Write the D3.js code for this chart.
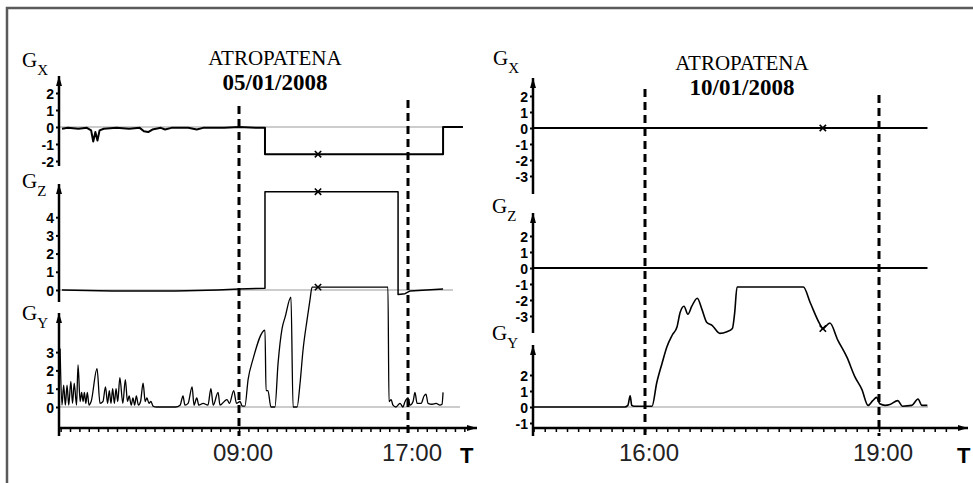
<!DOCTYPE html>
<html>
<head>
<meta charset="utf-8">
<script src="https://cdn.jsdelivr.net/npm/d3@7"></script>
<style>
  body { margin: 0; background: #fff; }
  svg { display: block; }
</style>
</head>
<body>
<svg id="chart" width="973" height="483"></svg>
<script>
// ---- data: [hour, value] ----
const leftGx = [[0.62,-0.1],[0.9,-0.05],[1.4,-0.1],[1.8,-0.05],[2.0,-0.2],[2.1,-0.85],[2.2,-0.3],[2.3,-0.8],[2.4,-0.2],[2.6,-0.1],
  [3.2,-0.05],[3.8,-0.1],[4.3,-0.05],[4.5,-0.25],[4.7,-0.3],[4.9,-0.15],[5.3,-0.05],[5.5,-0.15],[5.8,-0.05],[6.6,-0.05],
  [7.0,-0.15],[7.3,-0.05],[8.3,-0.05],[9.0,0],[9.8,-0.05],[10.23,-0.05],[10.23,-1.6],[18.66,-1.6],[18.66,0],[19.6,0]];
const leftGz = [[0.62,0],[3,-0.05],[6,-0.05],[8,0],[9,0.05],[10.23,0.1],[10.23,5.4],[16.53,5.4],[16.53,-0.25],[16.86,-0.2],
  [17.1,-0.05],[18.66,0.05]];
const leftGy = [[0.53,3.2],[0.62,0.1],[0.70,1.2],[0.78,0.1],[0.86,1.2],[0.94,0.1],[1.04,1.4],[1.12,0.2],[1.2,1.3],[1.31,0.1],
  [1.38,2.3],[1.48,0.3],[1.55,0.8],[1.62,0.3],[1.68,0.8],[1.75,0.2],[1.82,0.8],[1.9,0.1],[2.0,0.3],[2.28,2.1],[2.42,0.2],
  [2.56,0.3],[2.68,1.1],[2.78,0.2],[2.86,0.9],[2.94,0.2],[3.02,1.0],[3.1,0.2],[3.18,1.0],[3.26,0.3],[3.36,1.6],[3.5,0.2],
  [3.62,1.5],[3.72,0.3],[3.8,0.6],[3.9,0.1],[3.98,0.5],[4.06,0.1],[4.14,0.6],[4.24,0.1],[4.34,0.3],[4.46,1.3],[4.56,0.3],
  [4.64,0.5],[4.74,0.2],[4.83,0.3],[4.93,0.05],[5.1,0],[6.0,0],[6.21,0.1],[6.35,0.6],[6.44,0.1],[6.59,0.2],[6.78,1.1],
  [6.87,0.1],[7.0,0.5],[7.1,0.1],[7.3,0.2],[7.53,0.1],[7.67,1.0],[7.78,0.1],[8.01,0.8],[8.1,0.1],[8.3,0.3],[8.43,0.4],
  [8.55,0.2],[8.75,0.9],[8.88,0.2],[9.05,0.3],[9.15,0.05],[9.28,0.05],[9.43,1.5],[9.66,2.6],[10.23,4.2],[10.28,0.9],
  [10.37,0.9],[10.51,0],[10.70,0],[10.85,2.4],[11.04,4.3],[11.18,4.9],[11.46,6.0],[11.56,0],[11.75,0],[11.89,1.3],
  [12.03,3.1],[12.22,4.75],[12.36,5.85],[12.46,6.55],[16.05,6.55],[16.10,0.3],[16.2,0.4],[16.29,0.1],[16.43,0],[16.62,0.2],
  [16.76,0],[16.86,0.3],[17.0,0.5],[17.1,0.1],[17.24,0.3],[17.33,0.8],[17.43,0.2],[17.62,0.2],[17.76,0.6],[17.85,0.7],
  [17.95,0.2],[18.14,0.15],[18.33,0.2],[18.51,0.1],[18.61,0.15],[18.66,0.8]];

const rightGx = [[14.56,0],[19.62,0]];
const rightGz = [[14.56,0],[19.62,0]];
const rightGy = [[14.56,0],[15.74,0],[15.78,0.1],[15.81,0.7],[15.83,0.1],[15.86,0.05],[16.09,0.05],[16.15,1.5],[16.22,2.75],
  [16.28,3.75],[16.35,4.5],[16.41,5.0],[16.45,5.9],[16.50,6.3],[16.55,5.8],[16.60,6.3],[16.67,6.8],[16.73,6.1],[16.79,5.3],
  [16.86,5.1],[16.96,4.6],[17.05,4.7],[17.12,4.9],[17.15,5.9],[17.18,7.5],[18.03,7.5],[18.12,6.5],[18.24,5.2],[18.28,4.9],
  [18.37,5.25],[18.47,4.2],[18.59,3.1],[18.69,1.9],[18.78,1.1],[18.86,0.1],[18.92,0.4],[18.97,0.6],[19.01,0.2],[19.08,0.1],
  [19.14,0.15],[19.24,0.4],[19.3,0.05],[19.42,0.1],[19.50,0.5],[19.55,0.1],[19.62,0.1]];

// marker positions (hour, value)
const leftMarks = { gx: [12.74,-1.6], gz: [12.74,5.4], gy: [12.74,6.55] };
const rightMarks = { gx: [18.28,0], gy: [18.28,4.9] };

// tick labels
const leftGxTicks = [2,1,0,-1,-2];
const leftGzTicks = [4,3,2,1,0];
const leftGyTicks = [3,2,1,0];
const rightGxTicks = [2,1,0,-1,-2,-3];
const rightGzTicks = [2,1,0,-1,-2,-3];
const rightGyTicks = [2,1,0,-1];

const leftTimes = [9, 17];
const rightTimes = [16, 19];
const timeLabel = h => d3.format("02")(h) + ":00";

const titles = [
  { name: "ATROPATENA", date: "05/01/2008" },
  { name: "ATROPATENA", date: "10/01/2008" }
];

// ---- drawing ----
const svg = d3.select("#chart");

svg.append("defs").append("marker")
  .attr("id", "arrow")
  .attr("viewBox", "0 0 10 6")
  .attr("refX", 10).attr("refY", 3)
  .attr("markerWidth", 10).attr("markerHeight", 6)
  .attr("markerUnits", "userSpaceOnUse")
  .attr("orient", "auto")
  .append("path").attr("d", "M0,0L10,3L0,6Z").attr("fill", "#000");

// frame (cropped on right and bottom)
svg.append("rect")
  .attr("x", 7).attr("y", 8).attr("width", 1200).attr("height", 700)
  .attr("fill", "none").attr("stroke", "#5a5a5a").attr("stroke-width", 2.5);

const panels = [
  {
    x: d3.scaleLinear().domain([9, 17]).range([239, 408]),
    axisX: 59, arrowEnd: 477, tickStep: 8 / 18, tickEndPx: 466,
    times: leftTimes, dashTop: [106, 100], tY: 463, tX: 460,
    title: titles[0], titleX: 275, titleY: 65,
    strips: [
      { name: "X", data: leftGx, ticks: leftGxTicks, zero: 127, unit: 17, top: 76, bottom: 166, grayEnd: 463, lx: 22, ly: 67, w: 2, mark: leftMarks.gx, curve: d3.curveLinear },
      { name: "Z", data: leftGz, ticks: leftGzTicks, zero: 290, unit: 18.2, top: 184, bottom: 302, grayEnd: 453, lx: 22, ly: 188, w: 1.5, mark: leftMarks.gz, curve: d3.curveLinear },
      { name: "Y", data: leftGy, ticks: leftGyTicks, zero: 407, unit: 18.3, top: 313, bottom: 436, grayEnd: 460, lx: 22, ly: 320, w: 1.3, mark: leftMarks.gy, curve: d3.curveMonotoneX }
    ]
  },
  {
    x: d3.scaleLinear().domain([16, 19]).range([645, 879]),
    axisX: 533, arrowEnd: 968, tickStep: 1 / 7, tickEndPx: 955,
    times: rightTimes, dashTop: [89, 95], tY: 463, tX: 957,
    title: titles[1], titleX: 742, titleY: 70,
    strips: [
      { name: "X", data: rightGx, ticks: rightGxTicks, zero: 128, unit: 16, top: 78, bottom: 194, grayEnd: 928, lx: 493, ly: 65, w: 2.2, mark: rightMarks.gx, curve: d3.curveLinear },
      { name: "Z", data: rightGz, ticks: rightGzTicks, zero: 268, unit: 16, top: 213, bottom: 333, grayEnd: 928, lx: 492, ly: 213, w: 2.2, mark: null, curve: d3.curveLinear },
      { name: "Y", data: rightGy, ticks: rightGyTicks, zero: 407, unit: 16, top: 345, bottom: 436, grayEnd: 928, lx: 492, ly: 340, w: 1.6, mark: rightMarks.gy, curve: d3.curveMonotoneX }
    ]
  }
];

const xAxisY = 428;
const serif = "'Liberation Serif', 'Times New Roman', serif";
const sans = "'Liberation Sans', Arial, sans-serif";

panels.forEach(p => {
  const g = svg.append("g");
  const x = p.x;

  // title
  g.append("text").attr("x", p.titleX).attr("y", p.titleY)
    .attr("text-anchor", "middle")
    .style("font-family", serif)
    .style("font-size", "21px")
    .text(p.title.name);
  g.append("text").attr("x", p.titleX).attr("y", p.titleY + 25)
    .attr("text-anchor", "middle")
    .style("font-family", serif)
    .style("font-size", "23px").style("font-weight", "bold")
    .text(p.title.date);

  p.strips.forEach(s => {
    const y = d3.scaleLinear().domain([0, 1]).range([s.zero, s.zero - s.unit]);

    // gray zero line
    g.append("line")
      .attr("x1", p.axisX).attr("x2", s.grayEnd)
      .attr("y1", y(0)).attr("y2", y(0))
      .attr("stroke", "#999").attr("stroke-width", 1);

    // vertical axis with arrow
    g.append("line")
      .attr("x1", p.axisX).attr("x2", p.axisX)
      .attr("y1", s.bottom).attr("y2", s.top)
      .attr("stroke", "#000").attr("stroke-width", 2.5)
      .attr("marker-end", "url(#arrow)");

    const ax = g.append("g")
      .attr("transform", `translate(${p.axisX},0)`)
      .call(d3.axisLeft(y).tickValues(s.ticks).tickSize(3).tickPadding(2)
        .tickFormat(d => String(d)));
    ax.select(".domain").remove();
    ax.selectAll("line").attr("stroke-width", 2);
    ax.selectAll("text")
      .style("font-family", sans)
      .style("font-size", "14px").style("font-weight", "bold")
      .attr("dy", "0.36em");

    // G label with subscript
    const lab = g.append("text").attr("x", s.lx).attr("y", s.ly)
      .style("font-family", serif)
      .style("font-size", "21px");
    lab.append("tspan").text("G");
    lab.append("tspan").attr("dx", 0).attr("dy", 8).style("font-size", "15px").text(s.name);

    // data line
    const line = d3.line().x(d => x(d[0])).y(d => y(d[1])).curve(s.curve);
    g.append("path").datum(s.data)
      .attr("d", line)
      .attr("fill", "none").attr("stroke", "#000")
      .attr("stroke-width", s.w).attr("stroke-linejoin", "round");

    if (s.mark) {
      g.append("path")
        .attr("d", d3.symbol(d3.symbolTimes, 28)())
        .attr("transform", `translate(${x(s.mark[0])},${y(s.mark[1])})`)
        .attr("fill", "none").attr("stroke", "#000").attr("stroke-width", 1.6);
    }
  });

  // dashed event lines
  p.times.forEach((h, i) => {
    g.append("line")
      .attr("x1", x(h)).attr("x2", x(h))
      .attr("y1", p.dashTop[i]).attr("y2", xAxisY + 8)
      .attr("stroke", "#000").attr("stroke-width", 3)
      .attr("stroke-dasharray", "8,5");
  });

  // time axis
  g.append("line")
    .attr("x1", p.axisX).attr("x2", p.arrowEnd)
    .attr("y1", xAxisY).attr("y2", xAxisY)
    .attr("stroke", "#000").attr("stroke-width", 2.5)
    .attr("marker-end", "url(#arrow)");

  const h0 = x.invert(p.axisX);
  const hEnd = x.invert(p.tickEndPx);
  const k0 = Math.ceil((h0 - p.times[0]) / p.tickStep - 1e-6);
  const minor = d3.range(k0, Math.floor((hEnd - p.times[0]) / p.tickStep) + 1)
    .map(k => p.times[0] + k * p.tickStep);
  const xa = g.append("g")
    .attr("transform", `translate(0,${xAxisY})`)
    .call(d3.axisBottom(x).tickValues(minor).tickSize(4).tickFormat(""));
  xa.select(".domain").remove();
  xa.selectAll("line").attr("stroke-width", 1.5);

  p.times.forEach(h => {
    g.append("text")
      .attr("x", x(h) + 4).attr("y", 461)
      .attr("text-anchor", "middle")
      .style("font-family", sans)
      .style("font-size", "24px").style("fill", "#222")
      .text(timeLabel(h));
  });

  g.append("text")
    .attr("x", p.tX).attr("y", p.tY)
    .style("font-family", sans)
    .style("font-size", "22px").style("font-weight", "bold")
    .text("T");
});
</script>
</body>
</html>
